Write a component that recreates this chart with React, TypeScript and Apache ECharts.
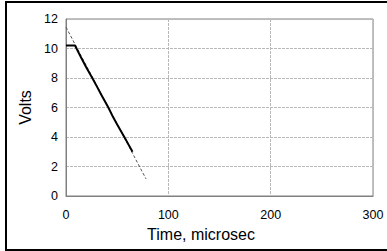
import React, { useEffect, useRef } from "react";
import * as echarts from "echarts";

const measuredTime = [0, 8.8, 15, 20, 25.7, 30, 35, 41.4, 46, 50, 57, 61, 65];
const measuredVolts = [10.2, 10.2, 9.35, 8.7, 8.0, 7.45, 6.8, 6.0, 5.35, 4.85, 4.0, 3.5, 3.0];
const fitTime = [0, 78.2];
const fitVolts = [11.45, 1.16];
const xTicks = [0, 100, 200, 300];
const yTicks = [0, 2, 4, 6, 8, 10, 12];

export default function App() {
  const ref = useRef<HTMLDivElement>(null);
  useEffect(() => {
    const chart = echarts.init(ref.current!, undefined, { renderer: "svg" });
    const font = "'Liberation Sans', Arial, sans-serif";
    chart.setOption({
      animation: false,
      backgroundColor: "#fff",
      grid: {
        left: 66,
        top: 19,
        right: 14,
        bottom: 55,
        show: true,
        borderColor: "#808080",
        borderWidth: 1,
      },
      xAxis: {
        type: "value",
        min: xTicks[0],
        max: xTicks[xTicks.length - 1],
        interval: 100,
        axisLine: { show: true, lineStyle: { color: "#808080" } },
        axisTick: { show: false },
        axisLabel: { color: "#000", fontFamily: font, fontSize: 12.5, margin: 12 },
        splitLine: { show: true, lineStyle: { color: "#b8b8b8", type: [3, 1] } },
      },
      yAxis: {
        type: "value",
        min: yTicks[0],
        max: yTicks[yTicks.length - 1],
        interval: 2,
        name: "Volts",
        nameLocation: "middle",
        nameGap: 32,
        nameTextStyle: { color: "#000", fontFamily: font, fontSize: 16 },
        axisLine: { show: true, lineStyle: { color: "#808080" } },
        axisTick: { show: false },
        axisLabel: { color: "#000", fontFamily: font, fontSize: 12.5, margin: 8 },
        splitLine: { show: true, lineStyle: { color: "#b8b8b8", type: [3, 1] } },
      },
      graphic: [
        {
          type: "rect",
          shape: { x: 6, y: 2, width: 400, height: 248 },
          style: { fill: "none", stroke: "#000", lineWidth: 2 },
          silent: true,
        },
        {
          type: "text",
          x: 201,
          y: 234,
          style: {
            text: "Time, microsec",
            fill: "#000",
            font: `16px ${font}`,
            align: "center",
            verticalAlign: "middle",
          },
        },
      ],
      series: [
        {
          type: "line",
          data: fitTime.map((t, i) => [t, fitVolts[i]]),
          symbol: "none",
          lineStyle: { color: "#555", width: 1, type: [3, 2] },
          z: 2,
        },
        {
          type: "line",
          data: measuredTime.map((t, i) => [t, measuredVolts[i]]),
          symbol: "none",
          lineStyle: { color: "#000", width: 2 },
          z: 3,
        },
      ],
    });
    return () => chart.dispose();
  }, []);
  return (
    <div
      ref={ref}
      style={{ position: "fixed", left: 0, top: 0, width: 387, height: 251 }}
    />
  );
}
